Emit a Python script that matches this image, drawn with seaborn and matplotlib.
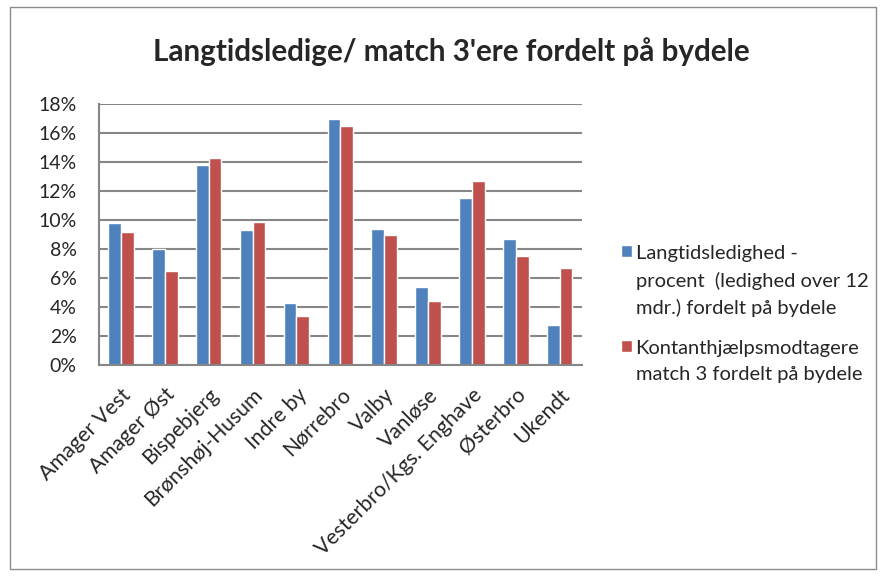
import pandas as pd
import matplotlib
matplotlib.use("Agg")
import matplotlib.pyplot as plt
import seaborn as sns
from matplotlib.ticker import PercentFormatter, MultipleLocator
from matplotlib.patches import Rectangle

bydele = ["Amager Vest", "Amager Øst", "Bispebjerg", "Brønshøj-Husum", "Indre by",
          "Nørrebro", "Valby", "Vanløse", "Vesterbro/Kgs. Enghave", "Østerbro", "Ukendt"]
langtid = [9.8, 8.0, 13.8, 9.3, 4.3, 17.0, 9.4, 5.4, 11.5, 8.7, 2.8]
match3 = [9.2, 6.5, 14.3, 9.9, 3.4, 16.5, 9.0, 4.4, 12.7, 7.5, 6.7]

serie1 = "Langtidsledighed -\nprocent  (ledighed over 12\nmdr.) fordelt på bydele"
serie2 = "Kontanthjælpsmodtagere\nmatch 3 fordelt på bydele"

df = pd.DataFrame({
    "bydel": bydele * 2,
    "pct": langtid + match3,
    "serie": [serie1] * len(bydele) + [serie2] * len(bydele),
})

sns.set_style("white")
plt.rcParams["font.family"] = ["Lato", "DejaVu Sans"]

fig = plt.figure(figsize=(8.84, 5.76), dpi=100)
ax = fig.add_axes([0.112, 0.366, 0.546, 0.453])

sns.barplot(data=df, x="bydel", y="pct", hue="serie", order=bydele,
            palette=["#4F81BD", "#C0504D"], width=0.58, saturation=1, ax=ax)

ax.set_ylim(0, 18)
ax.yaxis.set_major_locator(MultipleLocator(2))
ax.yaxis.set_major_formatter(PercentFormatter(decimals=0))
ax.grid(axis="y", color="#868686", linewidth=1.5)
ax.set_axisbelow(True)
for s in ["top", "right"]:
    ax.spines[s].set_visible(False)
for s in ["left", "bottom"]:
    ax.spines[s].set_color("#868686")
    ax.spines[s].set_linewidth(1.5)
ax.set_xlim(-0.5, len(bydele) - 0.5)
ax.set_xlabel("")
ax.set_ylabel("")
ax.tick_params(axis="y", labelsize=14, length=0, pad=16)
ax.tick_params(axis="x", labelsize=15.2, length=0, pad=14)
plt.setp(ax.get_xticklabels(), rotation=45, ha="right", rotation_mode="anchor")

leg = ax.legend(loc="center left", bbox_to_anchor=(0.703, 0.455), bbox_transform=fig.transFigure,
                frameon=False, fontsize=14.5, handlelength=0.5, handleheight=0.5,
                handletextpad=0.2, labelspacing=1.15, borderpad=0, borderaxespad=0)
for t in leg.get_texts():
    t.set_linespacing(1.62)
# firkanten skal stå ud for første linje, ikke midt i teksten
for col in leg._legend_handle_box.get_children():
    for row in col.get_children():
        row.align = "top"

fig.text(0.511, 0.91, "Langtidsledige/ match 3'ere fordelt på bydele",
         ha="center", va="center", fontsize=21.3, fontweight="bold")

fig.patches.append(Rectangle((0.011, 0.012), 0.98, 0.976, transform=fig.transFigure,
                             fill=False, edgecolor="#8c8c8c", linewidth=1.0))

fig.savefig("out.png", dpi=100)
